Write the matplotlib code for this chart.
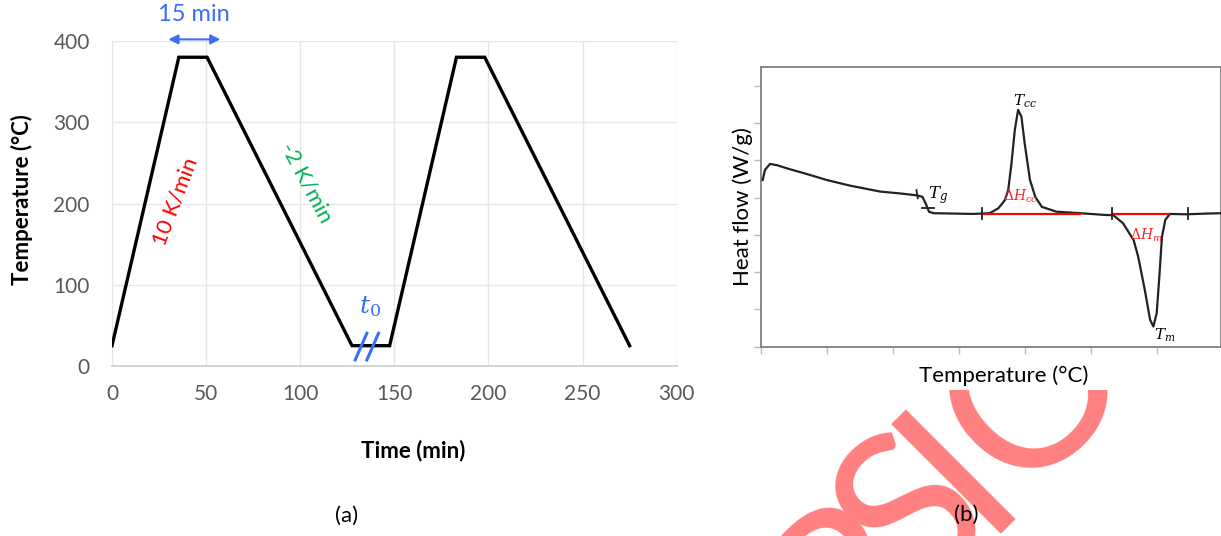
import numpy as np
import matplotlib
matplotlib.use('Agg')
from matplotlib import pyplot as plt
from matplotlib.patches import Rectangle

# ---- panel (a): temperature programme ----
time_min	= [0, 35.5, 50.5, 127.5, 147.5, 183, 198, 275]
temp_c		= [25, 380, 380, 25, 25, 380, 380, 25]
x_ticks		= [0, 50, 100, 150, 200, 250, 300]
y_ticks		= [0, 100, 200, 300, 400]
hold_span	= [28.5, 59.0]		# "15 min" arrow ends
break_x		= [132.3, 138.5]	# the "//" marks at t0

# ---- panel (b): DSC curve (arbitrary units) ----
dsc_x = [0.03, 0.065, 0.14, 0.24, 0.44, 0.70, 1.00, 1.35, 1.81, 2.11, 2.36, 2.45,
	2.50, 2.55, 2.62, 3.22, 3.47, 3.60, 3.70, 3.75, 3.80, 3.85, 3.90, 3.95, 4.00,
	4.08, 4.16, 4.26, 4.48, 4.84, 5.24, 5.34, 5.49, 5.65, 5.72, 5.82, 5.90, 5.95,
	6.00, 6.04, 6.08, 6.13, 6.20, 6.45, 6.76, 6.98]
dsc_y = [4.47, 4.74, 4.90, 4.87, 4.76, 4.63, 4.47, 4.32, 4.16, 4.11, 4.06, 4.02,
	3.84, 3.62, 3.58, 3.56, 3.58, 3.71, 3.93, 4.20, 4.92, 5.81, 6.35, 6.17, 5.45,
	4.47, 4.02, 3.75, 3.62, 3.58, 3.53, 3.53, 3.31, 2.86, 2.41, 1.52, 0.72, 0.54,
	0.90, 1.88, 2.95, 3.40, 3.56, 3.55, 3.57, 3.58]
base_y		= 3.57
cc_span		= [3.36, 4.84]
m_span		= [5.32, 6.18]
limit_marks	= [3.36, 5.32, 6.48]

W, H = 1221, 536
fig = plt.figure(figsize=(W/100.0, H/100.0), dpi=100)
font = ['Lato', 'DejaVu Sans']
plt.rcParams['font.family'] = font
plt.rcParams['mathtext.fontset'] = 'dejavuserif'

def fx(px): return px/float(W)
def fy(py): return 1-py/float(H)

# watermark behind panel (b): only the letters that show, set along a 45 deg baseline
wm_text	= 'RSION'
wm_pos	= [192, 283, 346.5, 456, 612]	# px along the baseline
for ch, a in zip(wm_text, wm_pos):
	px = 1003 + (a-346.5)*0.7071
	py = 513 - (a-346.5)*0.7071
	fig.text(fx(px), fy(py), ch, fontsize=155, color='#FF8080', rotation=45,
		rotation_mode='anchor', ha='center', va='baseline', zorder=-3)
fig.patches.append(Rectangle((fx(690), fy(390)), 1-fx(690), 1-fy(390),
	transform=fig.transFigure, facecolor='white', edgecolor='none', zorder=-2))

# ---------------- (a) ----------------
ax = fig.add_axes([fx(112), fy(366), fx(676.7-112), (366-41)/float(H)])
ax.plot(time_min, temp_c, color='black', lw=2.4, solid_joinstyle='miter', zorder=3)
ax.set_xlim(0, 300)
ax.set_ylim(0, 400)
ax.set_xticks(x_ticks)
ax.set_yticks(y_ticks)
ax.grid(color='#E6E6E6', lw=1.0)
ax.set_axisbelow(True)
for s in ['top', 'right']:
	ax.spines[s].set_visible(False)
ax.spines['left'].set_color('#E6E6E6')
ax.spines['bottom'].set_color('#D0D0D0')
ax.spines['bottom'].set_linewidth(1.3)
ax.tick_params(length=0, labelsize=15, labelcolor='#595959')
ax.tick_params(axis='y', pad=16)
ax.tick_params(axis='x', pad=13)
fig.text(fx(413), fy(451), 'Time (min)', fontsize=16, fontweight='bold',
	ha='center', va='center')
fig.text(fx(22), fy(200), 'Temperature (°C)', fontsize=16, fontweight='bold',
	rotation=90, ha='center', va='center')

blue = '#3A6EF5'
ax.annotate('', xy=(hold_span[0], 402), xytext=(hold_span[1], 402),
	arrowprops=dict(arrowstyle='<|-|>', color=blue, lw=1.5, mutation_scale=14),
	annotation_clip=False)
ax.text(np.mean(hold_span), 433, '15 min', color=blue, fontsize=17,
	ha='center', va='center', clip_on=False)
ax.text(33.8, 202, '10 K/min', color='#FF0000', fontsize=16, rotation=69,
	ha='center', va='center')
ax.text(103.5, 225, '-2 K/min', color='#00B050', fontsize=16, rotation=-62,
	ha='center', va='center')
ax.text(136.9, 73, r'$t_0$', color=blue, fontsize=18, ha='center', va='center')
for bx in break_x:
	ax.plot([bx-3.1, bx+3.1], [7.5, 40.3], color=blue, lw=2.2, zorder=4,
		clip_on=False)
fig.text(fx(347), fy(516), '(a)', fontsize=16, ha='center', va='center')

# ---------------- (b) ----------------
bx_ = fig.add_axes([fx(760.7), fy(346.7), 1-fx(760.7), (346.7-67)/float(H)])
bx_.plot(dsc_x, dsc_y, color='#222222', lw=1.6, zorder=3)
bx_.plot(cc_span, [base_y, base_y], color='#FF0000', lw=1.6, zorder=4)
bx_.plot(m_span, [base_y, base_y], color='#FF0000', lw=1.6, zorder=4)
for m in limit_marks:
	bx_.plot([m, m], [base_y-0.15, base_y+0.15], color='#222222', lw=1.3, zorder=5)
bx_.plot([2.36, 2.38], [4.2, 3.98], color='#222222', lw=1.3)
bx_.plot([2.45, 2.63], [3.73, 3.73], color='#222222', lw=1.3)
bx_.set_xlim(0, (W-760.7)/66.0)
bx_.set_ylim(0, 7.5)
bx_.set_xticks(np.arange(0, 7))
bx_.set_yticks(np.arange(0, 8))
bx_.set_xticklabels([])
bx_.set_yticklabels([])
bx_.tick_params(direction='out', length=5, color='#BBBBBB', width=1)
for s in bx_.spines.values():
	s.set_color('#7F7F7F')
	s.set_linewidth(1.3)
fig.text(fx(1004), fy(376), 'Temperature (°C)', fontsize=16, ha='center', va='center')
fig.text(fx(743), fy(207), 'Heat flow (W/g)', fontsize=16, rotation=90,
	ha='center', va='center')
bx_.text(4.0, 6.57, r'$T_{cc}$', fontsize=11, ha='center', va='center')
bx_.text(2.69, 4.07, r'$T_g$', fontsize=12, ha='center', va='center')
bx_.text(3.93, 4.04, r'$\Delta H_{cc}$', fontsize=10, color='#FF2020',
	ha='center', va='center')
bx_.text(5.85, 3.0, r'$\Delta H_m$', fontsize=10, color='#FF2020',
	ha='center', va='center')
bx_.text(6.12, 0.31, r'$T_m$', fontsize=11, ha='center', va='center')
fig.text(fx(966), fy(515), '(b)', fontsize=16, ha='center', va='center')

fig.savefig('out.png', dpi=100)
